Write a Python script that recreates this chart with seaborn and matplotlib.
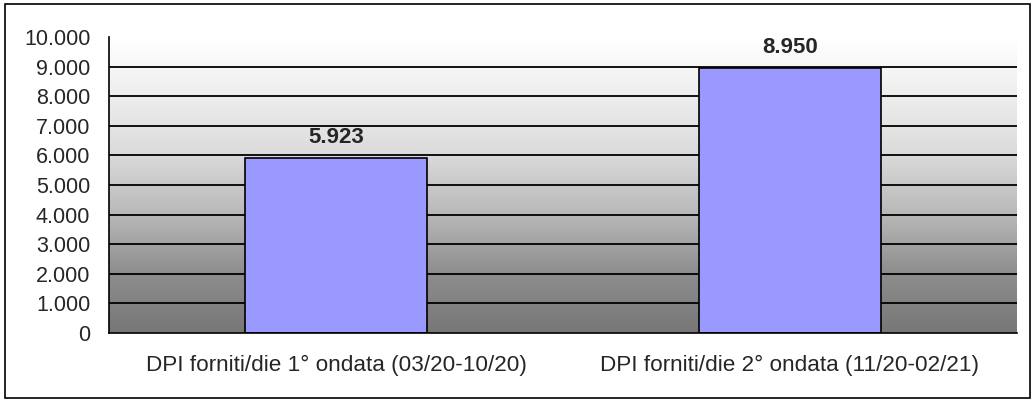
import matplotlib
matplotlib.use("Agg")
import matplotlib.pyplot as plt
import numpy as np
import pandas as pd
import seaborn as sns
from matplotlib.colors import LinearSegmentedColormap
from matplotlib.patches import Rectangle
from matplotlib.ticker import FuncFormatter, MultipleLocator

categories = [
    "DPI forniti/die 1° ondata (03/20-10/20)",
    "DPI forniti/die 2° ondata (11/20-02/21)",
]
values = [5923, 8950]

sns.set_style("white")
plt.rcParams["font.family"] = ["Liberation Sans", "DejaVu Sans"]

df = pd.DataFrame({"periodo": categories, "dpi": values})


def dotted(v, pos=None):
    return f"{int(round(v)):,}".replace(",", ".")


fig = plt.figure(figsize=(10.36, 4.04), dpi=100)
ax = fig.add_axes([109 / 1036, 1 - 333 / 404, (1017 - 109) / 1036, (333 - 37) / 404])

# gradient background of the plot area (Excel-like, grey at the bottom)
bg_cmap = LinearSegmentedColormap.from_list(
    "bg", [(0.0, "#777777"), (0.2, "#8d8d8d"), (0.4, "#b8b8b8"),
           (0.6, "#dadada"), (0.72, "#e6e6e6"), (1.0, "#ffffff")])
grad = np.linspace(1, 0, 256).reshape(-1, 1)
ax.imshow(grad, cmap=bg_cmap, aspect="auto", extent=(-0.5, 1.5, 0, 10000),
          zorder=0, vmin=0, vmax=1)

sns.barplot(data=df, x="periodo", y="dpi", color="#9999ff", saturation=1,
            width=0.4, edgecolor="black", linewidth=1.2, ax=ax, zorder=3)
for bar in ax.patches:
    bar.set_facecolor("#9999ff")

ax.set_xlim(-0.5, 1.5)
ax.set_ylim(0, 10000)
ax.yaxis.set_major_locator(MultipleLocator(1000))
ax.yaxis.set_major_formatter(FuncFormatter(dotted))
for y in range(1000, 10000, 1000):
    ax.axhline(y, color="black", lw=1.3, zorder=1)

ax.bar_label(ax.containers[0], labels=[dotted(v) for v in values], padding=7,
             fontsize=16, fontweight="bold", zorder=4)

for s in ["top", "right"]:
    ax.spines[s].set_visible(False)
for s in ["left", "bottom"]:
    ax.spines[s].set_color("black")
    ax.spines[s].set_linewidth(1.2)
    ax.spines[s].set_zorder(5)

ax.set_xticks([-0.5, 0.5, 1.5], minor=False)
ax.set_xticklabels([])
ax.set_xticks([0, 1], minor=True)
ax.set_xticklabels(categories, minor=True, fontsize=16.2)
ax.tick_params(axis="x", which="major", direction="out", length=5, width=1.2, color="black")
ax.tick_params(axis="x", which="minor", length=0, pad=15.5)
ax.tick_params(axis="y", direction="out", length=5, width=1.2, color="black",
               labelsize=15.5, pad=8.5)
ax.set_xlabel("")
ax.set_ylabel("")

fig.patches.append(Rectangle((5 / 1036, 1 - 398 / 404), 1025 / 1036, 394 / 404,
                             transform=fig.transFigure, fill=False, edgecolor="black",
                             lw=1.2, zorder=10))

fig.savefig("out.png", dpi=100)
